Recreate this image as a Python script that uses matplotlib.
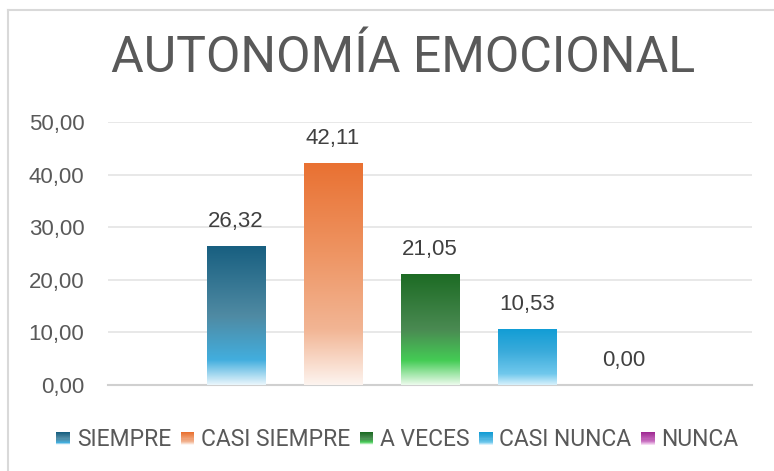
import numpy as np
import matplotlib.pyplot as plt
from matplotlib.colors import LinearSegmentedColormap
from matplotlib.patches import Rectangle
from matplotlib.legend_handler import HandlerBase

# data
categories = ["SIEMPRE", "CASI SIEMPRE", "A VECES", "CASI NUNCA", "NUNCA"]
values = [26.32, 42.11, 21.05, 10.53, 0.00]
yticks = [0, 10, 20, 30, 40, 50]

# gradient stops, bottom -> top
grad_stops = [
    [(0.0, "#eaf6fc"), (0.18, "#42aede"), (0.5, "#4f8aa3"), (1.0, "#185f80")],
    [(0.0, "#fdf4ef"), (0.25, "#f2b594"), (0.6, "#ee9462"), (1.0, "#e97132")],
    [(0.0, "#ecfbec"), (0.22, "#44cc55"), (0.5, "#4a8a52"), (1.0, "#1d6b24")],
    [(0.0, "#d8f1fc"), (0.2, "#70c8ec"), (0.6, "#3aabdb"), (1.0, "#129dd5")],
    [(0.0, "#f5d9f2"), (0.3, "#c86fc0"), (1.0, "#a02b93")],
]
cmaps = [LinearSegmentedColormap.from_list(f"g{i}", s) for i, s in enumerate(grad_stops)]


class GradHandler(HandlerBase):
    def __init__(self, cmap):
        super().__init__()
        self.cmap = cmap

    def create_artists(self, legend, orig_handle, xdescent, ydescent, width, height, fontsize, trans):
        n = 12
        side = width
        x0 = -xdescent
        y0 = -ydescent + (height - side) / 2
        arts = []
        for k in range(n):
            r = Rectangle((x0, y0 + side * k / n), side, side / n + 0.05,
                          facecolor=self.cmap(k / (n - 1)), edgecolor="none", transform=trans)
            arts.append(r)
        return arts


fig = plt.figure(figsize=(7.74, 4.71), dpi=100)
ax = fig.add_axes([108 / 774, 1 - 385 / 471, (752 - 108) / 774, (385 - 122) / 471])

# outer chart border (only top and left visible in crop)
fig.add_artist(plt.Line2D([7.5 / 774, 7.5 / 774], [0, 1 - 10 / 471], color="#d9d9d9", lw=1.5,
                          transform=fig.transFigure))
fig.add_artist(plt.Line2D([7.5 / 774, 1], [1 - 10 / 471, 1 - 10 / 471], color="#d9d9d9", lw=1.5,
                          transform=fig.transFigure))

x = np.arange(len(categories))
w = 0.6
bars = ax.bar(x, values, width=w, color="none", edgecolor="none")
grad = np.linspace(0, 1, 256).reshape(-1, 1)
for i, b in enumerate(bars):
    if values[i] > 0:
        ax.imshow(grad, cmap=cmaps[i], origin="lower", aspect="auto",
                  extent=(b.get_x(), b.get_x() + w, 0, values[i]), zorder=3)
    ax.text(x[i], values[i] + 4.75, f"{values[i]:.2f}".replace(".", ","), ha="center", va="center",
            fontsize=16, color="#404040", family="Liberation Sans")

ax.set_xlim(2 - 3.32, 2 + 3.32)
ax.set_ylim(0, 50)
ax.set_yticks(yticks)
ax.set_yticklabels([f"{t:.2f}".replace(".", ",") for t in yticks], family="Liberation Sans",
                   fontsize=16, color="#595959")
ax.set_xticks([])
ax.tick_params(axis="y", length=0, pad=17)
for s in ["top", "right", "left"]:
    ax.spines[s].set_visible(False)
ax.spines["bottom"].set_color("#d0d0d0")
ax.spines["bottom"].set_linewidth(1.5)
ax.grid(axis="y", color="#e6e6e6", lw=1.3)
ax.set_axisbelow(True)

fig.text(403 / 774, 1 - 58 / 471, "AUTONOMÍA EMOCIONAL", ha="center", va="center",
         fontsize=36, color="#595959", family="Roboto")

handles = [Rectangle((0, 0), 1, 1) for _ in categories]
leg = fig.legend(handles, categories, loc="center", bbox_to_anchor=(397.5 / 774, 1 - 440 / 471),
                 ncol=5, frameon=False, handler_map={h: GradHandler(cmaps[i]) for i, h in enumerate(handles)},
                 prop={"family": "Roboto", "size": 16.5}, handlelength=0.6, handletextpad=0.3,
                 columnspacing=0.4, borderpad=0, borderaxespad=0)
for t in leg.get_texts():
    t.set_color("#595959")

fig.savefig("out.png", dpi=100)
